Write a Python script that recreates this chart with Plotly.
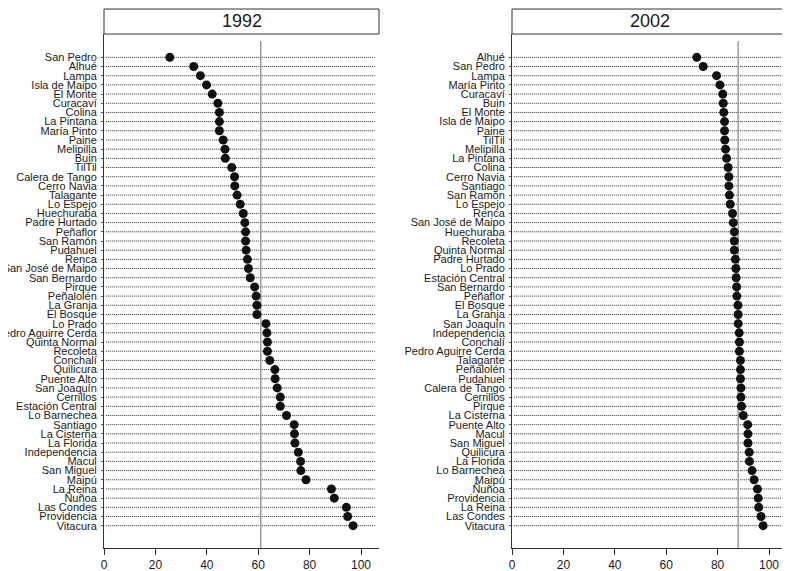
import plotly.graph_objects as go

# ---- data ----
names_1992 = ["San Pedro", "Alhué", "Lampa", "Isla de Maipo", "El Monte", "Curacaví", "Colina",
              "La Pintana", "María Pinto", "Paine", "Melipilla", "Buin", "TilTil", "Calera de Tango",
              "Cerro Navia", "Talagante", "Lo Espejo", "Huechuraba", "Padre Hurtado", "Peñaflor",
              "San Ramón", "Pudahuel", "Renca", "San José de Maipo", "San Bernardo", "Pirque",
              "Peñalolén", "La Granja", "El Bosque", "Lo Prado", "Pedro Aguirre Cerda",
              "Quinta Normal", "Recoleta", "Conchalí", "Quilicura", "Puente Alto", "San Joaquín",
              "Cerrillos", "Estación Central", "Lo Barnechea", "Santiago", "La Cisterna",
              "La Florida", "Independencia", "Macul", "San Miguel", "Maipú", "La Reina", "Ñuñoa",
              "Las Condes", "Providencia", "Vitacura"]
values_1992 = [25.6, 34.9, 37.5, 39.9, 42.1, 44.3, 44.9, 44.9, 44.9, 46.4, 47.1, 47.2, 49.7, 50.8,
               50.9, 51.8, 53.0, 54.2, 54.8, 55.1, 55.1, 55.3, 55.8, 56.2, 56.9, 58.6,
               59.2, 59.5, 59.5, 63.0, 63.4, 63.6, 63.6, 64.5, 66.5, 66.6, 67.4,
               68.6, 68.6, 71.0, 74.0, 74.1, 74.3, 75.6, 76.5, 76.6, 78.6, 88.5, 89.6,
               94.3, 94.8, 96.9]

names_2002 = ["Alhué", "San Pedro", "Lampa", "María Pinto", "Curacaví", "Buin", "El Monte",
              "Isla de Maipo", "Paine", "TilTil", "Melipilla", "La Pintana", "Colina", "Cerro Navia",
              "Santiago", "San Ramón", "Lo Espejo", "Renca", "San José de Maipo", "Huechuraba",
              "Recoleta", "Quinta Normal", "Padre Hurtado", "Lo Prado", "Estación Central",
              "San Bernardo", "Peñaflor", "El Bosque", "La Granja", "San Joaquín", "Independencia",
              "Conchalí", "Pedro Aguirre Cerda", "Talagante", "Peñalolén", "Pudahuel",
              "Calera de Tango", "Cerrillos", "Pirque", "La Cisterna", "Puente Alto", "Macul",
              "San Miguel", "Quilicura", "La Florida", "Lo Barnechea", "Maipú", "Ñuñoa",
              "Providencia", "La Reina", "Las Condes", "Vitacura"]
values_2002 = [71.9, 74.4, 79.6, 80.9, 82.0, 82.2, 82.4, 82.7, 82.7, 82.8, 83.1, 83.5, 84.1, 84.4,
               84.4, 84.6, 84.9, 85.8, 86.1, 86.5, 86.5, 86.5, 86.9, 87.1, 87.2,
               87.4, 87.5, 87.9, 88.0, 88.0, 88.4, 88.5, 88.5, 88.9, 88.9, 88.9,
               89.1, 89.1, 89.3, 90.0, 91.7, 91.8, 91.8, 92.3, 92.4, 93.4, 94.2, 95.5,
               95.8, 96.0, 96.9, 97.7]

panel_titles = ["1992", "2002"]
ref_values = [61, 88]
x_ticks = [0, 20, 40, 60, 80, 100]

# ---- style ----
OFF = 8                      # page body margin
W, H = 790 - OFF, 571 - OFF  # figure size so it fits the window
FONT = "Liberation Sans, Arial, Helvetica, sans-serif"
INK = "#1a1a1a"
X_RANGE = [0, 107]
GUIDE_X = (0.7, 105.3)
PAD_TOP, PAD_BOT = 2.54, 2.43
REF_TOP = 1.78
plot_top, plot_bot = 34, 548          # window pixels
head_top = 9
x_domains = [(104, 379), (512, 787)]  # window pixels


def fx(px):
    return (px - OFF) / W


def fy(py):
    return 1 - (py - OFF) / H


fig = go.Figure()
panels = [(names_1992, values_1992), (names_2002, values_2002)]

for i, (names, vals) in enumerate(panels):
    xa = "x" if i == 0 else "x2"
    ya = "y" if i == 0 else "y2"
    n = len(names)
    pos = list(range(n))
    # dotted guide lines
    gx, gy = [], []
    for p in pos:
        gx += [GUIDE_X[0], GUIDE_X[1], None]
        gy += [p, p, None]
    fig.add_trace(go.Scatter(x=gx, y=gy, mode="lines", xaxis=xa, yaxis=ya,
                             line=dict(color="#2a2a2a", width=1, dash="1px,1px"),
                             hoverinfo="skip", showlegend=False))
    # reference line
    fig.add_trace(go.Scatter(x=[ref_values[i], ref_values[i]],
                             y=[-REF_TOP, n - 1 + PAD_BOT], mode="lines",
                             xaxis=xa, yaxis=ya, line=dict(color="#9a9a9a", width=1.5),
                             hoverinfo="skip", showlegend=False))
    # dots
    fig.add_trace(go.Scatter(x=vals, y=pos, mode="markers", xaxis=xa, yaxis=ya,
                             text=names, hovertemplate="%{text}: %{x}<extra></extra>",
                             marker=dict(color="#111111", size=9, line=dict(width=0)),
                             showlegend=False))

    dom_x = [fx(x_domains[i][0]), fx(x_domains[i][1])]
    dom_y = [fy(plot_bot), fy(plot_top)]
    xkey = "xaxis" if i == 0 else "xaxis2"
    ykey = "yaxis" if i == 0 else "yaxis2"
    fig.update_layout(**{
        xkey: dict(domain=dom_x, range=X_RANGE, tickvals=x_ticks, ticks="outside",
                   ticklen=6, tickwidth=1, tickcolor="#333333", showline=True,
                   linecolor="#333333", linewidth=1, showgrid=False, zeroline=False,
                   automargin=False,
                   tickfont=dict(family=FONT, size=12, color=INK), anchor=ya),
        ykey: dict(domain=dom_y, range=[n - 1 + PAD_BOT, -PAD_TOP],
                   tickvals=pos, ticktext=names,
                   showline=True, linecolor="#333333", linewidth=1, showgrid=False,
                   zeroline=False, ticks="outside", ticklen=2, tickwidth=1,
                   tickcolor="#555555", ticklabelstandoff=2, automargin=False,
                   tickfont=dict(family=FONT, size=11, color=INK), anchor=xa),
    })
    # header strip
    fig.add_shape(type="rect", xref="paper", yref="paper",
                  x0=dom_x[0], x1=dom_x[1], y0=dom_y[1], y1=fy(head_top),
                  line=dict(color="#333333", width=1), fillcolor="white")
    fig.add_annotation(text=panel_titles[i], xref="paper", yref="paper",
                       x=(dom_x[0] + dom_x[1]) / 2, y=(dom_y[1] + fy(head_top)) / 2,
                       showarrow=False, font=dict(family=FONT, size=18, color=INK),
                       xanchor="center", yanchor="middle")

fig.update_layout(width=W, height=H, margin=dict(l=0, r=0, t=0, b=0),
                  plot_bgcolor="white", paper_bgcolor="white", showlegend=False)

fig.write_html("out.html")
